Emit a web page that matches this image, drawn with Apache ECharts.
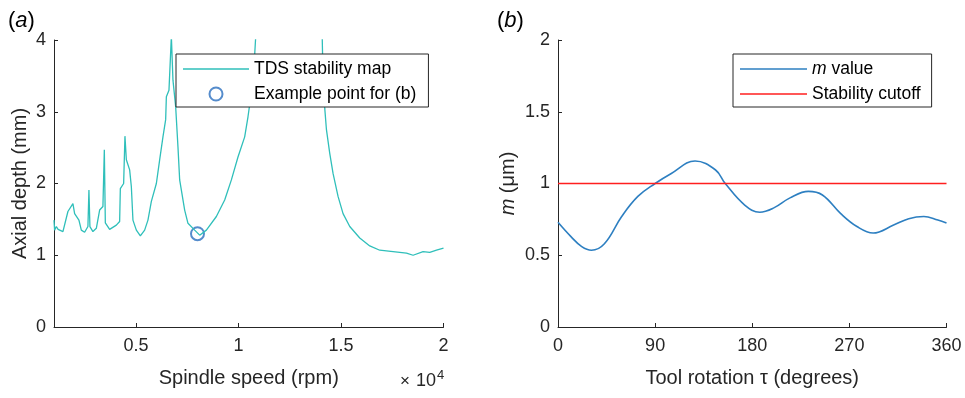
<!DOCTYPE html>
<html>
<head>
<meta charset="utf-8">
<script src="https://cdn.jsdelivr.net/npm/echarts@6/dist/echarts.min.js"></script>
<style>
  html, body { margin: 0; padding: 0; background: #fff; }
  #chart { width: 965px; height: 398px; }
</style>
</head>
<body>
<div id="chart"></div>
<script>
// (a) stability lobes: spindle speed (rpm) vs. limiting axial depth (mm)
const speedRpm = [1000, 1030, 1113, 1200, 1435, 1679, 1923, 2006, 2216, 2333, 2494, 2655, 2704, 2752, 2899,
  3065, 3226, 3387, 3455, 3504, 3714, 4041, 4202, 4236, 4397, 4461, 4529, 4690, 4773, 4851, 5017, 5212,
  5422, 5583, 5749, 5993, 6154, 6315, 6447, 6481, 6608, 6725, 6803, 6935, 7047, 7130, 7374, 7535, 7862,
  8106, 8433, 8921, 9326, 9653, 9975, 10302, 10463, 10644, 10790, 10950, 11000, 12500, 14000, 14046,
  14100, 14207, 14290, 14451, 14612, 14856, 15100, 15427, 15915, 16403, 16891, 17540, 18194, 18516,
  19004, 19331, 19658, 20000];
const axialDepth = [1.49, 1.35, 1.40, 1.36, 1.33, 1.61, 1.72, 1.58, 1.49, 1.35, 1.32, 1.40, 1.91, 1.40, 1.33,
  1.375, 1.63, 1.68, 2.47, 1.45, 1.36, 1.42, 1.47, 1.93, 2.00, 2.66, 2.33, 2.19, 1.955, 1.49, 1.35, 1.27,
  1.35, 1.49, 1.75, 2.00, 2.33, 2.65, 2.89, 3.21, 3.30, 4.05, 3.44, 3.07, 2.51, 2.05, 1.63, 1.445, 1.35,
  1.28, 1.35, 1.54, 1.77, 2.05, 2.37, 2.65, 2.93, 3.3, 3.8, 4.6, 6.5, 12, 6.5, 4.6,
  3.8, 3.05, 2.75, 2.42, 2.14, 1.82, 1.58, 1.40, 1.24, 1.13, 1.07, 1.05, 1.03, 1.00,
  1.05, 1.04, 1.07, 1.10];
const examplePoint = [8000, 1.3];
const speedTicks = [5000, 10000, 15000, 20000];

// (b) m value over one tool revolution
const tauDeg = [0, 12, 22, 31, 43, 59, 74, 90, 105, 127, 146, 155, 173, 187, 200, 215, 232, 245, 262, 277,
  292, 311, 325, 339, 352, 360];
const mValue = [0.73, 0.63, 0.56, 0.535, 0.58, 0.77, 0.91, 1.0, 1.07, 1.157, 1.094, 1.0, 0.85, 0.80, 0.83,
  0.90, 0.945, 0.92, 0.79, 0.70, 0.655, 0.71, 0.755, 0.77, 0.745, 0.725];
const stabilityCutoff = 1;

const FONT = "'Liberation Sans', Arial, Helvetica, sans-serif";
const INK = '#262626';
const TEAL = '#2fbfba';
const BLUE = '#2d7fc1';
const RED = '#ff1f1f';

// plain horizontal bar used as the legend key for line series
const LINE_KEY = 'path://M0,0L66,0L66,1.4L0,1.4Z';

const chart = echarts.init(document.getElementById('chart'), null, { renderer: 'canvas' });

const axisLineStyle = { show: true, onZero: false, lineStyle: { color: INK, width: 1 } };
const tickStyle = { show: true, inside: true, length: 4, lineStyle: { color: INK, width: 1 } };
const labelStyle = { color: INK, fontSize: 18, fontFamily: FONT };
const titleStyle = { color: INK, fontSize: 20, fontFamily: FONT };

const legendBase = {
  orient: 'vertical',
  top: 54,
  borderColor: INK,
  borderWidth: 1,
  borderRadius: 0,
  backgroundColor: '#fff',
  itemHeight: 13,
  itemGap: 7,
  selectedMode: false,
  textStyle: { color: '#000', fontSize: 17.5, fontFamily: FONT }
};

chart.setOption({
  animation: false,
  backgroundColor: '#fff',
  textStyle: { fontFamily: FONT },
  grid: [
    { left: 54, right: 521.5, top: 40, bottom: 71 },
    { left: 558, right: 18.5, top: 40, bottom: 71 }
  ],
  xAxis: [
    {
      gridIndex: 0, type: 'value', min: 1000, max: 20000,
      axisLine: axisLineStyle,
      axisTick: Object.assign({}, tickStyle, { customValues: speedTicks }),
      axisLabel: Object.assign({}, labelStyle, { margin: 10, customValues: speedTicks,
        formatter: v => String(v / 1e4) }),
      splitLine: { show: false },
      name: 'Spindle speed (rpm)', nameLocation: 'middle', nameGap: 41,
      nameTextStyle: titleStyle
    },
    {
      gridIndex: 1, type: 'value', min: 0, max: 360, interval: 90,
      axisLine: axisLineStyle,
      axisTick: tickStyle,
      axisLabel: Object.assign({}, labelStyle, { margin: 10 }),
      splitLine: { show: false },
      name: 'Tool rotation τ (degrees)', nameLocation: 'middle', nameGap: 41,
      nameTextStyle: titleStyle
    }
  ],
  yAxis: [
    {
      gridIndex: 0, type: 'value', min: 0, max: 4, interval: 1,
      axisLine: axisLineStyle,
      axisTick: tickStyle,
      axisLabel: Object.assign({}, labelStyle, { margin: 8 }),
      splitLine: { show: false },
      name: 'Axial depth (mm)', nameLocation: 'middle', nameGap: 24, nameRotate: 90,
      nameTextStyle: titleStyle
    },
    {
      gridIndex: 1, type: 'value', min: 0, max: 2, interval: 0.5,
      axisLine: axisLineStyle,
      axisTick: tickStyle,
      axisLabel: Object.assign({}, labelStyle, { margin: 8 }),
      splitLine: { show: false },
      name: '{i|m} (μm)', nameLocation: 'middle', nameGap: 40, nameRotate: 90,
      nameTextStyle: Object.assign({}, titleStyle, {
        rich: { i: { fontStyle: 'italic', fontSize: 20, fontFamily: FONT, color: INK } } })
    }
  ],
  legend: [
    Object.assign({}, legendBase, {
      left: 176, itemWidth: 66, padding: [6, 12, 4, 7],
      data: [
        { name: 'TDS stability map', icon: LINE_KEY },
        { name: 'Example point for (b)' }
      ]
    }),
    Object.assign({}, legendBase, {
      left: 733, itemWidth: 67, padding: [6, 11, 4, 7],
      data: [
        { name: 'm value', icon: LINE_KEY },
        { name: 'Stability cutoff', icon: LINE_KEY }
      ],
      formatter: name => name === 'm value' ? '{i|m} value' : name,
      textStyle: { color: '#000', fontSize: 17.5, fontFamily: FONT,
        rich: { i: { fontStyle: 'italic', fontSize: 17.5, fontFamily: FONT, color: '#000' } } }
    })
  ],
  graphic: [
    { type: 'text', left: 8, top: 10, style: { text: '({i|a})', fill: '#000', font: '22px ' + FONT,
      rich: { i: { fontStyle: 'italic', fontSize: 22, fontFamily: FONT, fill: '#000' } } } },
    { type: 'text', left: 497, top: 10, style: { text: '({i|b})', fill: '#000', font: '22px ' + FONT,
      rich: { i: { fontStyle: 'italic', fontSize: 22, fontFamily: FONT, fill: '#000' } } } },
    // axis exponent: ×10^4
    { type: 'text', left: 400, top: 373, style: { text: '×', fill: INK, font: '17px ' + FONT } },
    { type: 'text', left: 416, top: 372, style: { text: '10', fill: INK, font: '18px ' + FONT } },
    { type: 'text', left: 437, top: 369, style: { text: '4', fill: INK, font: '13px ' + FONT } }
  ],
  series: [
    {
      name: 'TDS stability map', type: 'line', xAxisIndex: 0, yAxisIndex: 0,
      data: speedRpm.map((s, i) => [s, axialDepth[i]]),
      symbol: 'none', clip: true,
      lineStyle: { color: TEAL, width: 1.3 }, itemStyle: { color: TEAL }
    },
    {
      name: 'Example point for (b)', type: 'scatter', xAxisIndex: 0, yAxisIndex: 0,
      data: [examplePoint],
      symbol: 'emptyCircle', symbolSize: 13,
      itemStyle: { color: '#2a6fbf', borderColor: '#2a6fbf', borderWidth: 1.3 }
    },
    {
      name: 'm value', type: 'line', xAxisIndex: 1, yAxisIndex: 1,
      data: tauDeg.map((t, i) => [t, mValue[i]]),
      symbol: 'none', smooth: 0.4,
      lineStyle: { color: BLUE, width: 1.6 }, itemStyle: { color: BLUE }
    },
    {
      name: 'Stability cutoff', type: 'line', xAxisIndex: 1, yAxisIndex: 1,
      data: [[0, stabilityCutoff], [360, stabilityCutoff]],
      symbol: 'none',
      lineStyle: { color: RED, width: 1.6 }, itemStyle: { color: RED }
    }
  ]
});
</script>
</body>
</html>
